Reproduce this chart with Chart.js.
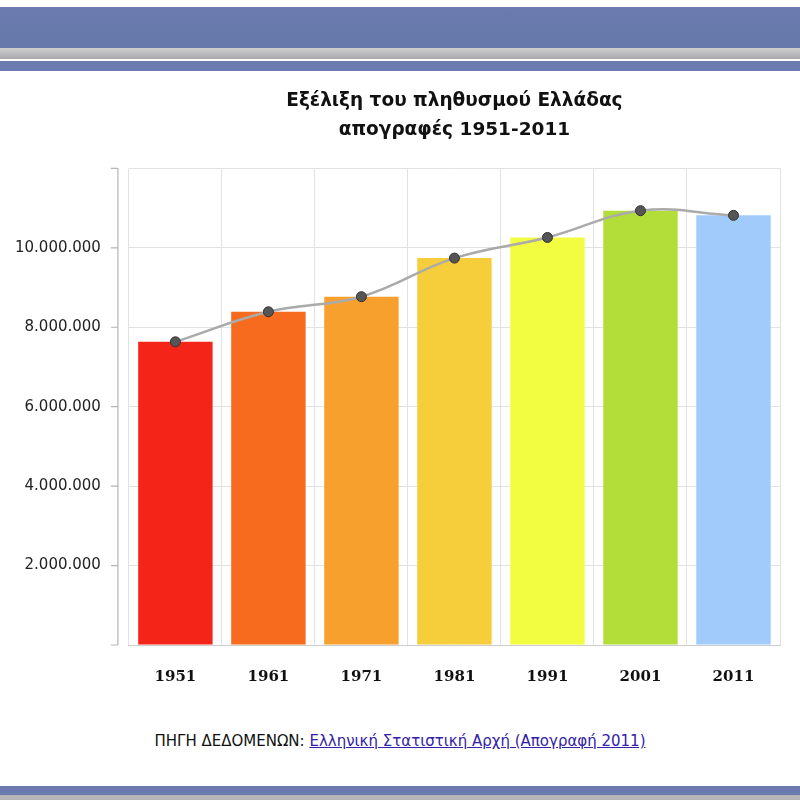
<!DOCTYPE html>
<html>
<head>
<meta charset="utf-8">
<script src="https://cdn.jsdelivr.net/npm/chart.js@4/dist/chart.umd.min.js"></script>
<style>
  body { margin: 0; background: #fff; width: 800px; height: 800px; position: relative; overflow: hidden; font-family: "DejaVu Sans", Verdana, sans-serif; }
  .band-top { position: absolute; left: 0; top: 7px; width: 800px; height: 41px; background: linear-gradient(#6b7aaf, #6679aa); }
  .band-gray { position: absolute; left: 0; top: 48px; width: 800px; height: 11px; background: linear-gradient(#cfcfcf, #a9a9ad); }
  .band-thin { position: absolute; left: 0; top: 61px; width: 800px; height: 10px; background: #6b7aaf; }
  .band-bottom { position: absolute; left: 0; top: 786px; width: 800px; height: 9px; background: #6b7aaf; }
  .band-bottom2 { position: absolute; left: 0; top: 795px; width: 800px; height: 5px; background: #b5b5b8; }
  .chart-box { position: absolute; left: 0; top: 75px; width: 800px; height: 640px; }
  .source { position: absolute; left: 0; top: 732px; width: 800px; text-align: center; font-size: 15px; color: #111; }
  .source a { color: #3322a8; }
</style>
</head>
<body>
<div class="band-top"></div>
<div class="band-gray"></div>
<div class="band-thin"></div>
<div class="chart-box"><canvas id="charts" width="800" height="640"></canvas></div>
<div class="source">ΠΗΓΗ ΔΕΔΟΜΕΝΩΝ: <a href="#">Ελληνική Στατιστική Αρχή (Απογραφή 2011)</a></div>
<div class="band-bottom"></div>
<div class="band-bottom2"></div>

<script>
// απογραφές πληθυσμού
const years = ['1951', '1961', '1971', '1981', '1991', '2001', '2011'];
const population = [7632801, 8388553, 8768641, 9740417, 10259900, 10934097, 10816286];
const barColors = ['#f42518', '#f76b1f', '#f8a02e', '#f6cd3b', '#f2fc40', '#b3de3a', '#a0cbfb'];
const yTicks = [0, 2000000, 4000000, 6000000, 8000000, 10000000, 12000000];

function formatNumber(v) {
  return String(v).replace(/\B(?=(\d{3})+(?!\d))/g, '.');
}

// άξονας y λίγο πιο έξω από την περιοχή του γραφήματος
const detachedAxis = {
  id: 'detachedAxis',
  afterDraw(chart) {
    const y = chart.scales.y;
    const c = chart.ctx;
    const x = chart.chartArea.left - 11;
    c.save();
    c.strokeStyle = '#b5b5b5';
    c.lineWidth = 1.2;
    c.beginPath();
    c.moveTo(x, y.getPixelForValue(y.max));
    c.lineTo(x, y.getPixelForValue(y.min));
    y.ticks.forEach((t) => {
      const py = y.getPixelForValue(t.value);
      c.moveTo(x - 7, py);
      c.lineTo(x, py);
    });
    c.stroke();
    c.restore();
  },
};

let ctx = document.getElementById('charts').getContext('2d');
let myChart = new Chart(ctx, {
  data: {
    labels: years,
    datasets: [
      {
        type: 'line',
        data: population,
        order: 0,
        borderColor: '#aaaaaa',
        borderWidth: 2.5,
        tension: 0.4,
        pointRadius: 5,
        pointBackgroundColor: '#555555',
        pointBorderColor: '#333333',
        pointBorderWidth: 1,
        fill: false,
      },
      {
        type: 'bar',
        data: population,
        order: 1,
        backgroundColor: barColors,
        barPercentage: 0.8,
        categoryPercentage: 1,
      },
    ],
  },
  plugins: [detachedAxis],
  options: {
    responsive: false,
    animation: false,
    layout: {
      padding: { left: -13, right: 20, top: 0, bottom: 6 },
    },
    plugins: {
      legend: { display: false },
      tooltip: { enabled: false },
      title: {
        display: true,
        fullSize: false,
        text: ['Εξέλιξη του πληθυσμού Ελλάδας', 'απογραφές 1951-2011'],
        color: '#111',
        font: { family: 'DejaVu Sans', weight: 'bold', size: 18.5, lineHeight: 1.55 },
        padding: { top: 12, bottom: 24 },
      },
    },
    scales: {
      x: {
        grid: { color: '#e2e2e2', drawTicks: false },
        border: { color: '#cccccc' },
        ticks: {
          color: '#111',
          padding: 23,
          font: { family: 'DejaVu Serif', weight: 'bold', size: 15 },
        },
      },
      y: {
        min: 0,
        max: 12000000,
        afterBuildTicks: (axis) => {
          axis.ticks = yTicks.map((v) => ({ value: v }));
        },
        grid: { color: '#e2e2e2', drawTicks: false },
        border: { display: false },
        ticks: {
          color: '#222',
          padding: 28,
          font: { family: 'DejaVu Sans', size: 15 },
          callback: (v) => (v === 0 || v === 12000000 ? '' : formatNumber(v)),
        },
      },
    },
  },
});
</script>
</body>
</html>
